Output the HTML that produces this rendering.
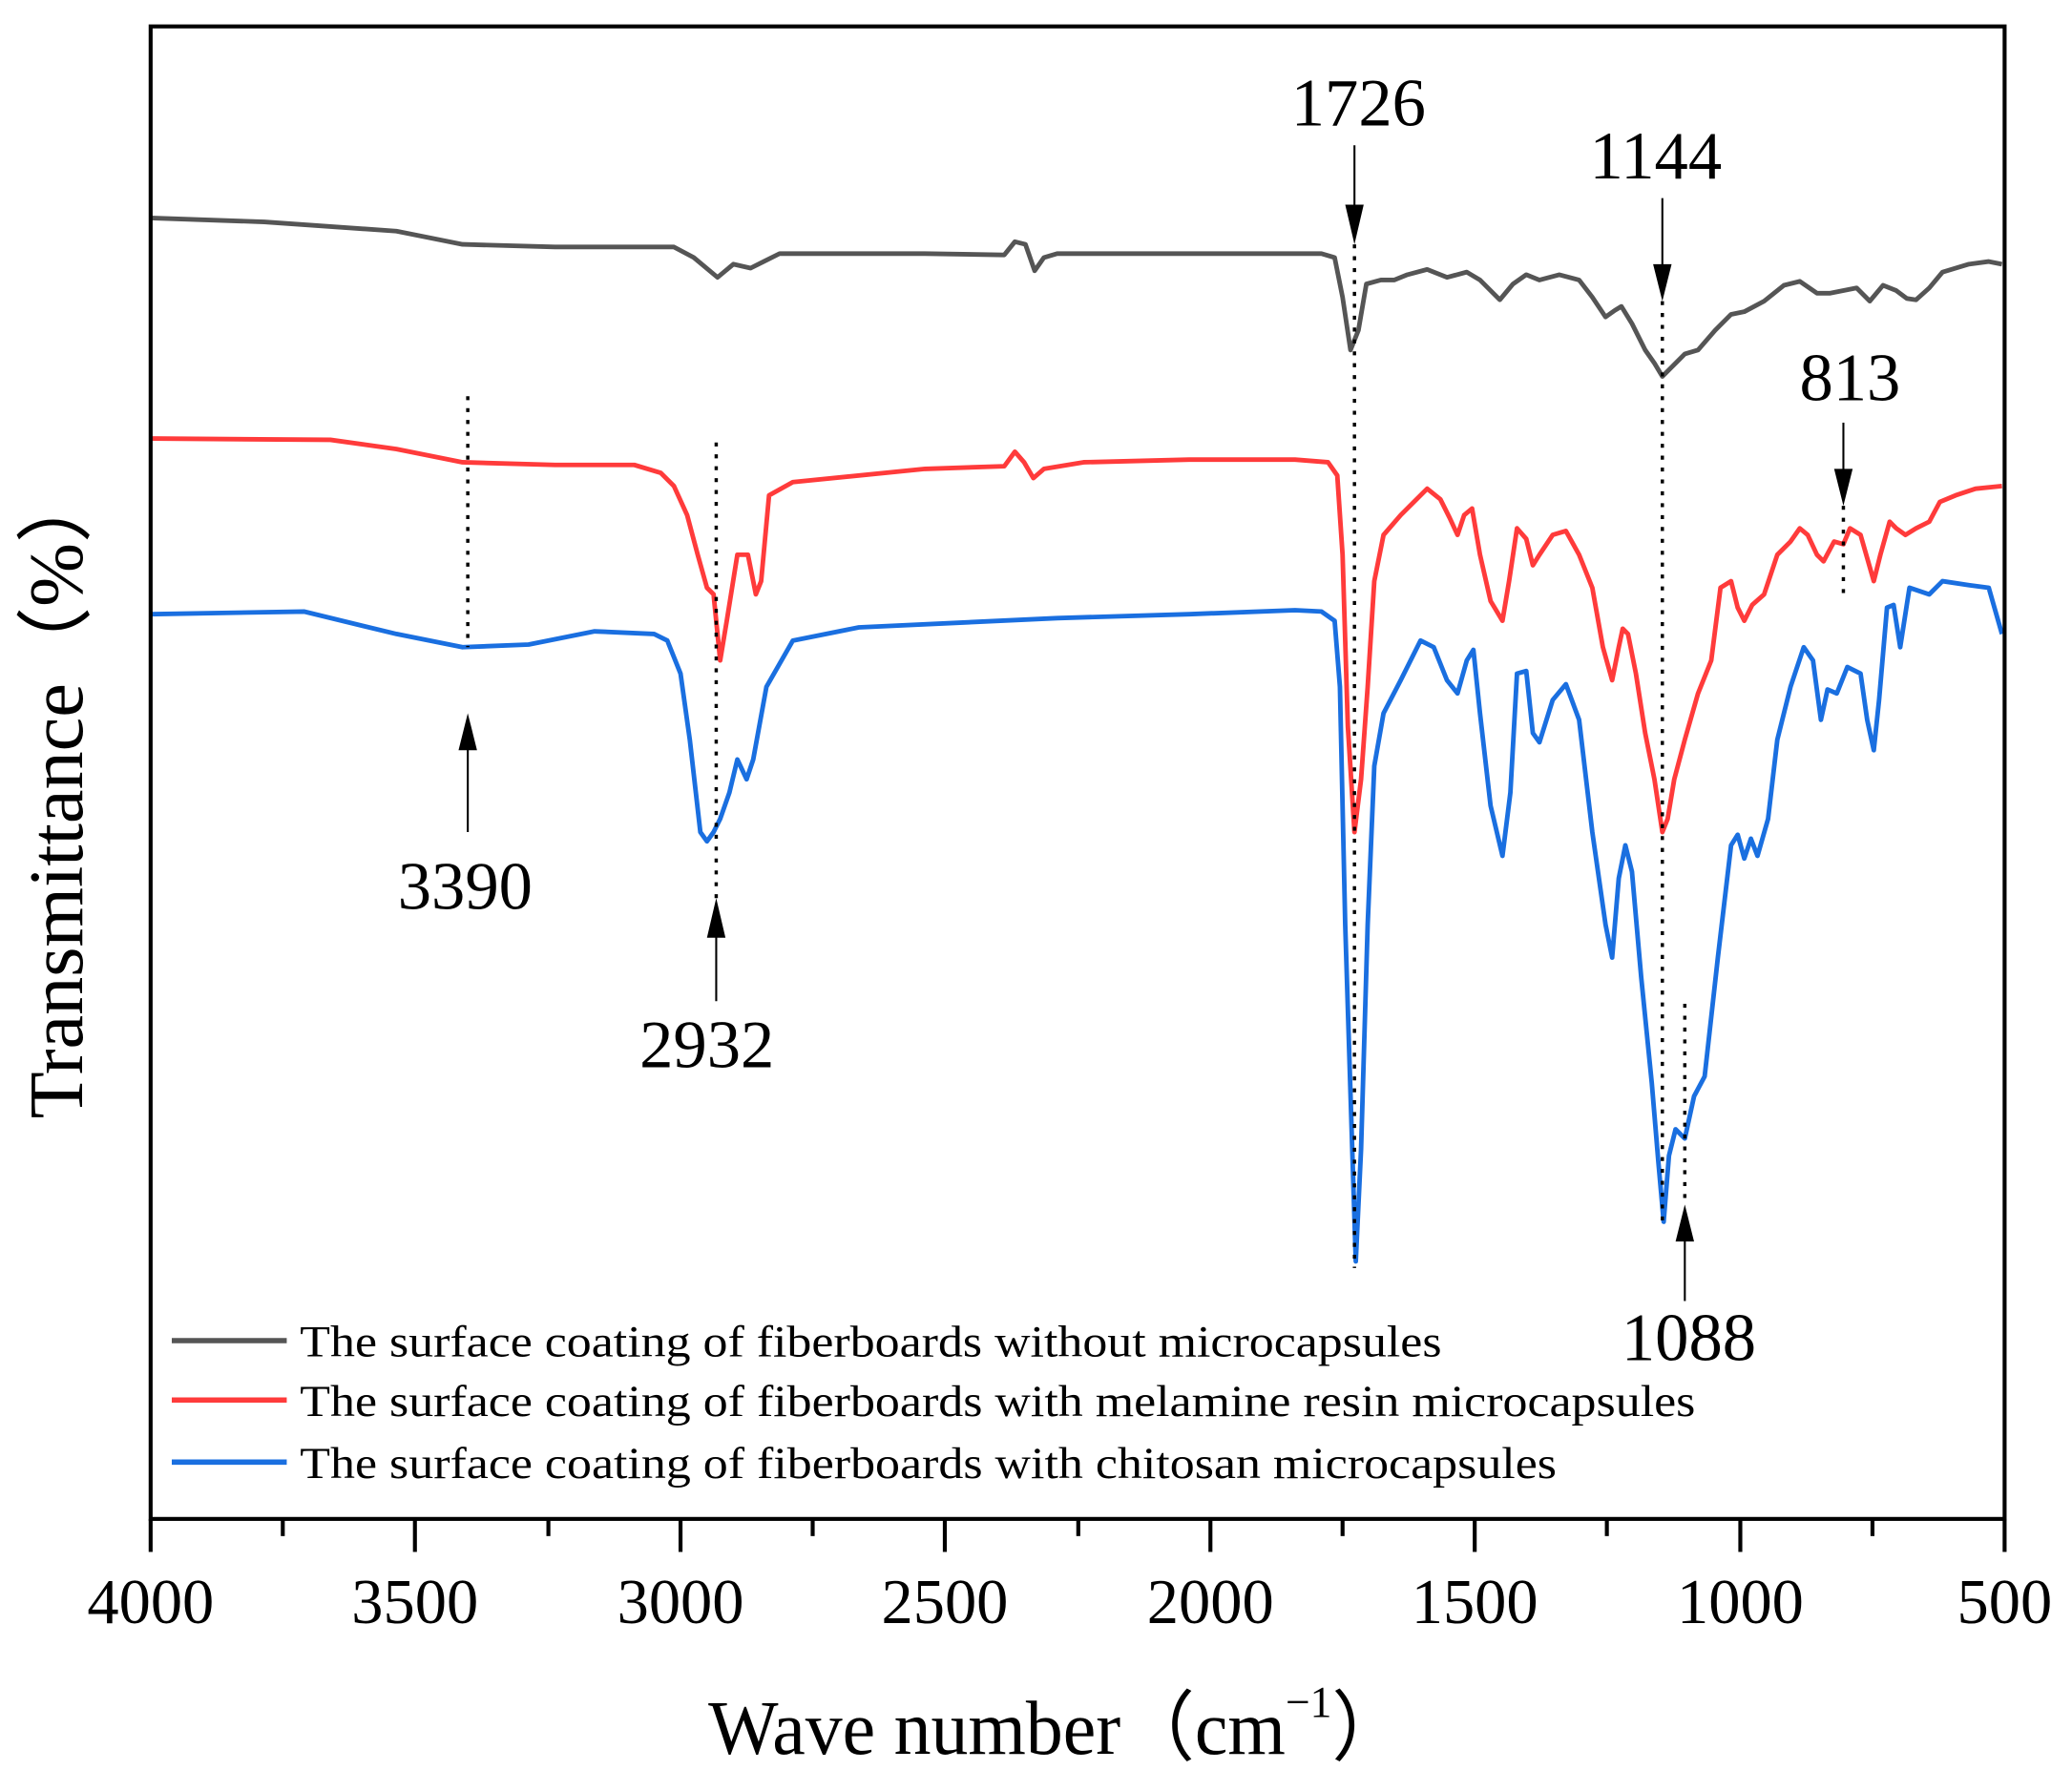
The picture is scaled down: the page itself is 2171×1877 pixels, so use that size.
<!DOCTYPE html>
<html><head><meta charset="utf-8"><style>html,body{margin:0;padding:0;background:#fff}svg{display:block}</style></head>
<body>
<svg width="2171" height="1877" viewBox="0 0 1568 1356" xmlns="http://www.w3.org/2000/svg" preserveAspectRatio="none" font-family="'Liberation Serif', serif">
<rect width="1568" height="1356" fill="#fff"/>
<g fill="none" stroke-width="3.5" stroke-linejoin="round">
<polyline stroke="#555" points="114,165 200,168 300,175 350,185 420,187 510,187 525,195 543,210 555,200 568,203 578,198 590,192 700,192 760,193 768,183 776,185 783,205 790,195 800,192 1000,192 1010,195 1016,225 1022,265 1028,250 1034,215 1045,212 1055,212 1065,208 1080,204 1095,210 1110,206 1120,212 1135,227 1145,215 1155,208 1165,212 1180,208 1195,212 1205,225 1215,240 1222,235 1227,232 1235,245 1245,265 1252,275 1258,285 1265,278 1275,268 1285,265 1298,250 1310,238 1320,236 1335,228 1350,216 1362,213 1375,222 1385,222 1395,220 1405,218 1415,228 1425,216 1435,220 1443,226 1450,227 1460,218 1470,206 1490,200 1505,198 1515,200"/>
<polyline stroke="#ff3b3b" points="114,332 250,333 300,340 350,350 420,352 480,352 500,358 510,368 520,390 528,420 535,445 540,450 545,500 550,470 558,420 566,420 572,450 576,440 582,375 600,365 700,355 760,353 768,342 775,350 782,362 790,355 820,350 900,348 980,348 1005,350 1012,360 1016,420 1020,550 1025,630 1030,590 1035,520 1040,440 1047,405 1060,390 1070,380 1080,370 1090,378 1097,392 1103,405 1108,390 1114,385 1120,420 1128,455 1137,470 1142,440 1148,400 1155,408 1160,428 1165,420 1175,405 1185,402 1195,420 1205,445 1213,490 1220,515 1225,490 1228,476 1232,480 1238,510 1245,555 1252,590 1258,630 1262,620 1267,590 1275,560 1285,525 1295,500 1302,445 1310,440 1315,460 1320,470 1326,458 1335,450 1345,420 1355,410 1362,400 1368,405 1375,420 1380,425 1388,410 1395,412 1400,400 1408,405 1418,440 1423,420 1430,395 1435,400 1442,405 1450,400 1460,395 1468,380 1480,375 1495,370 1515,368"/>
<polyline stroke="#1a6fe0" points="114,465 230,463 300,480 350,490 400,488 450,478 495,480 505,485 515,510 522,560 530,630 535,637 540,630 545,620 552,600 558,575 565,590 570,575 580,520 600,485 650,475 800,468 900,465 980,462 1000,463 1010,470 1014,520 1018,700 1023,860 1026,955 1030,870 1035,700 1040,580 1047,540 1060,515 1075,485 1085,490 1095,515 1103,525 1110,500 1115,492 1120,540 1128,610 1137,648 1143,600 1148,510 1155,508 1160,555 1165,562 1175,530 1185,518 1195,545 1205,630 1215,700 1220,725 1225,665 1230,640 1235,660 1242,740 1250,820 1255,880 1259,925 1263,875 1268,855 1275,862 1282,830 1290,815 1300,725 1310,640 1315,632 1320,650 1325,635 1330,648 1338,620 1345,560 1355,520 1365,490 1372,500 1378,545 1383,522 1390,525 1398,505 1408,510 1413,545 1418,568 1422,530 1428,460 1433,458 1438,490 1445,445 1460,450 1470,440 1490,443 1505,445 1515,480"/>
</g>
<g stroke="#000" stroke-width="2.5" stroke-dasharray="3,6" fill="none">
<line x1="354" y1="300" x2="354" y2="490"/>
<line x1="542" y1="335" x2="542" y2="680"/>
<line x1="1025" y1="185" x2="1025" y2="960"/>
<line x1="1258" y1="228" x2="1258" y2="930"/>
<line x1="1395" y1="383" x2="1395" y2="450"/>
<line x1="1275" y1="760" x2="1275" y2="912"/>
</g>
<g stroke="#000" stroke-width="1.5">
<line x1="1025" y1="110" x2="1025" y2="160"/>
<line x1="1258" y1="150" x2="1258" y2="205"/>
<line x1="1395" y1="320" x2="1395" y2="360"/>
<line x1="354" y1="565" x2="354" y2="630"/>
<line x1="542" y1="705" x2="542" y2="758"/>
<line x1="1275" y1="937" x2="1275" y2="985"/>
</g>
<g fill="#000">
<polygon points="1018,155 1032,155 1025,185"/>
<polygon points="1251,200 1265,200 1258,228"/>
<polygon points="1388,355 1402,355 1395,383"/>
<polygon points="347,568 361,568 354,540"/>
<polygon points="535,710 549,710 542,680"/>
<polygon points="1268,940 1282,940 1275,912"/>
</g>
<g font-size="51" text-anchor="middle" fill="#000">
<text x="1028" y="95">1726</text>
<text x="1253" y="135">1144</text>
<text x="1400" y="303">813</text>
<text x="352" y="688">3390</text>
<text x="535" y="808">2932</text>
<text x="1278" y="1030">1088</text>
</g>
<g stroke-width="4">
<line x1="130" y1="1015" x2="217" y2="1015" stroke="#555"/>
<line x1="130" y1="1060" x2="217" y2="1060" stroke="#ff3b3b"/>
<line x1="130" y1="1107" x2="217" y2="1107" stroke="#1a6fe0"/>
</g>
<g font-size="34" fill="#000">
<text x="227" y="1027" textLength="864" lengthAdjust="spacingAndGlyphs">The surface coating of fiberboards without microcapsules</text>
<text x="227" y="1072" textLength="1056" lengthAdjust="spacingAndGlyphs">The surface coating of fiberboards with melamine resin microcapsules</text>
<text x="227" y="1119" textLength="951" lengthAdjust="spacingAndGlyphs">The surface coating of fiberboards with chitosan microcapsules</text>
</g>
<rect x="114" y="20" width="1403" height="1130" fill="none" stroke="#000" stroke-width="3"/>
<g stroke="#000" stroke-width="3">
<line x1="114" y1="1150" x2="114" y2="1175"/><line x1="214" y1="1150" x2="214" y2="1163"/>
<line x1="314" y1="1150" x2="314" y2="1175"/><line x1="415" y1="1150" x2="415" y2="1163"/>
<line x1="515" y1="1150" x2="515" y2="1175"/><line x1="615" y1="1150" x2="615" y2="1163"/>
<line x1="715" y1="1150" x2="715" y2="1175"/><line x1="816" y1="1150" x2="816" y2="1163"/>
<line x1="916" y1="1150" x2="916" y2="1175"/><line x1="1016" y1="1150" x2="1016" y2="1163"/>
<line x1="1116" y1="1150" x2="1116" y2="1175"/><line x1="1216" y1="1150" x2="1216" y2="1163"/>
<line x1="1317" y1="1150" x2="1317" y2="1175"/><line x1="1417" y1="1150" x2="1417" y2="1163"/>
<line x1="1517" y1="1150" x2="1517" y2="1175"/>
</g>
<g font-size="48" text-anchor="middle" fill="#000">
<text x="114" y="1229">4000</text><text x="314" y="1229">3500</text><text x="515" y="1229">3000</text>
<text x="715" y="1229">2500</text><text x="916" y="1229">2000</text><text x="1116" y="1229">1500</text>
<text x="1317" y="1229">1000</text><text x="1517" y="1229">500</text>
</g>
<text x="800" y="1328" font-size="58" text-anchor="middle" fill="#000" textLength="528" lengthAdjust="spacingAndGlyphs">Wave number（cm<tspan font-size="34" dy="-28">−1</tspan><tspan font-size="58" dy="28">）</tspan></text>
<text transform="translate(62,600) rotate(-90)" font-size="58" text-anchor="middle" fill="#000">Transmittance（%）</text>
</svg>
</body></html>
